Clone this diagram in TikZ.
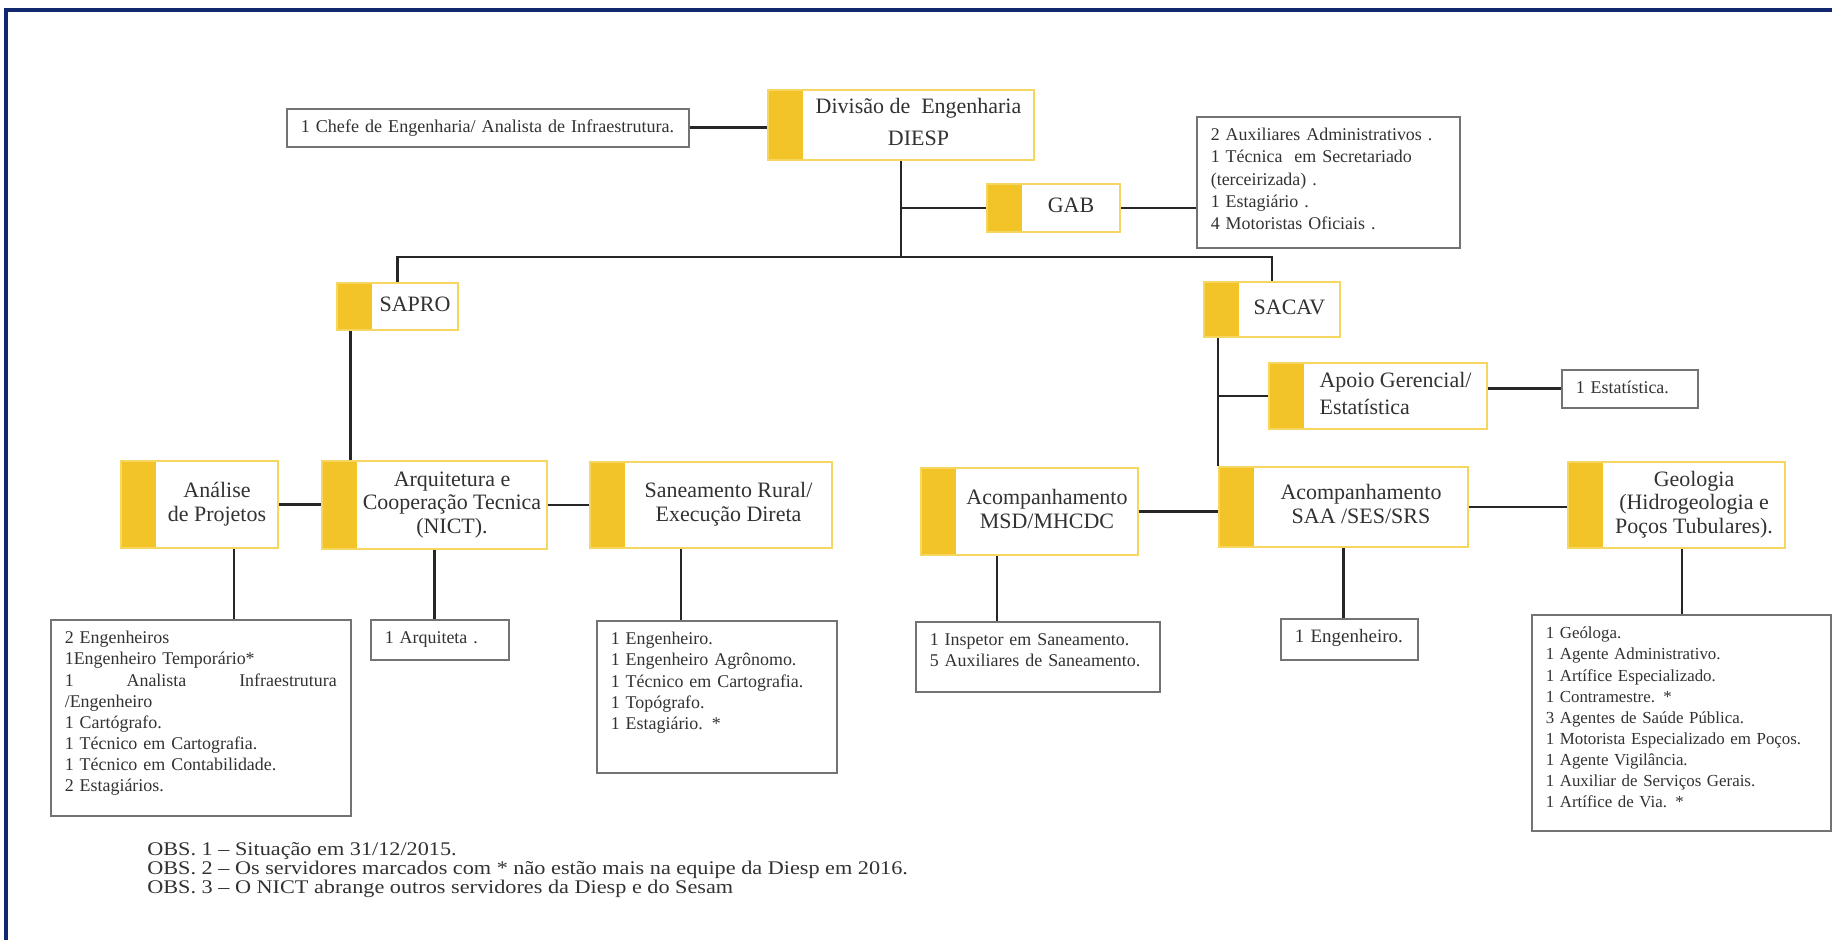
\documentclass[tikz,border=0pt]{standalone}
\usepackage{fontspec}
\setmainfont{Liberation Serif}
\newfontfamily\obsfont[FakeStretch=1.15, Ligatures=TeX]{Liberation Serif}
\definecolor{unitbar}{RGB}{242,196,40}
\definecolor{unitline}{RGB}{244,214,96}
\definecolor{staffline}{RGB}{115,115,115}
\definecolor{framenavy}{RGB}{18,40,110}
\definecolor{inktext}{RGB}{50,50,50}
% text of a unit box, centred right of the yellow bar
\newcommand{\unitlabel}[2][c]{\hspace*{0.7cm}\begin{tabular}{@{}#1@{}}#2\end{tabular}}

\begin{document}
\begin{tikzpicture}[font=\fontsize{12.5}{13.5}\selectfont, text=inktext]
    % Node styles
    \tikzstyle{unit box}=[draw=unitline, line width=1.2pt, fill=white, inner sep=1pt,
        path picture={\fill[unitbar] (path picture bounding box.south west) rectangle ([xshift=0.7cm]path picture bounding box.north west);}]
    \tikzstyle{staff box}=[draw=staffline, line width=0.9pt, fill=white, anchor=north west, align=left,
        inner xsep=0.28cm, inner ysep=0.2cm, text height=8pt, font=\fontsize{10.2}{12}\selectfont]
    \tikzstyle{link}=[line width=1.6pt, black!85]

    % Canvas and frame
    \useasboundingbox (0,0) rectangle (36.64,18.8);
    \draw[framenavy, line width=1.8pt] (0.12,0) -- (0.12,18.6) -- (36.64,18.6);

    % --- Level 0: Division ---
    \node[unit box, minimum width=5.32cm, minimum height=1.40cm] (dir) at (18.02,16.30) {\unitlabel{Divisão de\ \ Engenharia\\[5pt] DIESP}};
    \node[staff box, text width=7.48cm, text depth=0.078cm, font=\fontsize{10.3}{12}\selectfont] (chefe) at (5.72,16.64) {1 Chefe de Engenharia/ Analista de Infraestrutura.};

    % Cabinet
    \node[unit box, minimum width=2.66cm, minimum height=0.96cm] (gab) at (21.07,14.64) {\unitlabel{GAB}};
    \node[staff box, text width=4.70cm, text depth=1.938cm, font=\fontsize{10.2}{12.6}\selectfont] (gabstaff) at (23.92,16.48)
        {2 Auxiliares Administrativos .\\ 1 Técnica\ \ em Secretariado\\ (terceirizada) .\\ 1 Estagiário .\\ 4 Motoristas Oficiais .};

    % --- Level 1: Services ---
    \node[unit box, minimum width=2.42cm, minimum height=0.94cm] (sapro) at (7.95,12.67) {\unitlabel{SAPRO}};
    \node[unit box, minimum width=2.72cm, minimum height=1.10cm] (sacav) at (25.44,12.61) {\unitlabel{SACAV}};

    \node[unit box, minimum width=4.36cm, minimum height=1.32cm] (apoio) at (27.56,10.88) {\unitlabel[l]{Apoio Gerencial/\\[2pt] Estatística}};
    \node[staff box, text width=2.16cm, text depth=0.078cm] (estat) at (31.22,11.42) {1 Estatística.};

    % --- Level 2: Sectors ---
    \node[unit box, minimum width=3.14cm, minimum height=1.74cm] (anal) at (3.99,8.71) {\unitlabel{Análise\\ de Projetos}};
    \node[unit box, minimum width=4.50cm, minimum height=1.76cm] (arq) at (8.69,8.70) {\unitlabel{Arquitetura e\\ Cooperação Tecnica\\ (NICT).}};
    \node[unit box, minimum width=4.84cm, minimum height=1.72cm] (san) at (14.22,8.70) {\unitlabel{Saneamento Rural/\\ Execução Direta}};
    \node[unit box, minimum width=4.34cm, minimum height=1.74cm] (msd) at (20.59,8.57) {\unitlabel{Acompanhamento\\ MSD/MHCDC}};
    \node[unit box, minimum width=4.98cm, minimum height=1.60cm] (saa) at (26.87,8.66) {\unitlabel{Acompanhamento\\ SAA /SES/SRS}};
    \node[unit box, minimum width=4.34cm, minimum height=1.72cm] (geo) at (33.53,8.70) {\unitlabel{Geologia\\ (Hidrogeologia e\\ Poços Tubulares).}};

    % --- Level 3: Staff of each sector ---
    \node[staff box, text width=5.44cm, text depth=3.238cm] (analstaff) at (1.00,6.42)
        {2 Engenheiros\\ 1Engenheiro Temporário*\\ \makebox[\linewidth][l]{1\hfill Analista\hfill Infraestrutura}\\ /Engenheiro\\ 1 Cartógrafo.\\
         1 Técnico em Cartografia.\\ 1 Técnico em Contabilidade.\\ 2 Estagiários.};
    \node[staff box, text width=2.20cm, text depth=0.118cm] (arqstaff) at (7.40,6.42) {1 Arquiteta .};
    \node[staff box, text width=4.24cm, text depth=2.358cm] (sanstaff) at (11.92,6.40)
        {1 Engenheiro.\\ 1 Engenheiro Agrônomo.\\ 1 Técnico em Cartografia.\\ 1 Topógrafo.\\ 1 Estagiário. *};
    \node[staff box, text width=4.32cm, text depth=0.718cm] (msdstaff) at (18.30,6.38)
        {1 Inspetor em Saneamento.\\ 5 Auxiliares de Saneamento.};
    \node[staff box, text width=2.18cm, text depth=0.138cm, font=\fontsize{10.8}{12}\selectfont] (saastaff) at (25.60,6.44) {1 Engenheiro.};
    \node[staff box, text width=5.42cm, text depth=3.638cm, font=\fontsize{9.6}{12}\selectfont] (geostaff) at (30.62,6.52)
        {1 Geóloga.\\ 1 Agente Administrativo.\\ 1 Artífice Especializado.\\ 1 Contramestre. *\\ 3 Agentes de Saúde Pública.\\
         \mbox{1 Motorista Especializado em Poços.}\\ 1 Agente Vigilância.\\ 1 Auxiliar de Serviços Gerais.\\ 1 Artífice de Via. *};

    % Notes
    \node[anchor=north west, align=left, inner sep=0pt, font={\obsfont\fontsize{11}{10.9}\selectfont\lineskiplimit=-20pt\relax}] (obs) at (2.94,1.96)
        {OBS. 1 -- Situação em 31/12/2015.\\
         OBS. 2 -- Os servidores marcados com * não estão mais na equipe da Diesp em 2016.\\
         OBS. 3 -- O NICT abrange outros servidores da Diesp e do Sesam};

    % --- Connectors ---
    \draw[link] (chefe.east) -- (chefe.east -| dir.west);
    \draw[link] (sapro.north) -- ++(0,0.5) coordinate (bus) -| (sacav.north);
    \draw[link] (dir.south) -- (dir.south |- bus);
    \draw[link] (gab.west -| dir.south) -- (gab.west);
    \draw[link] (gab.east) -- (gab.east -| gabstaff.west);

    \draw[link] ([xshift=-0.94cm]sapro.south) -- ([xshift=-0.94cm]sapro.south |- arq.north);
    \draw[link] (saa.north west |- sacav.south) -- (saa.north west);
    \draw[link] (apoio.west -| saa.north west) -- (apoio.west);
    \draw[link] (estat.west -| apoio.east) -- (estat.west);

    \draw[link] (anal.east) -- (anal.east -| arq.west);
    \draw[link] (arq.east) -- (arq.east -| san.west);
    \draw[link] (msd.east) -- (msd.east -| saa.west);
    \draw[link] (saa.east) -- (saa.east -| geo.west);

    \draw[link] ([xshift=0.69cm]anal.south) -- ([xshift=0.69cm]anal.south |- analstaff.north);
    \draw[link] (arq.south) -- (arq.south |- arqstaff.north);
    \draw[link] ([xshift=-0.6cm]san.south) -- ([xshift=-0.6cm]san.south |- sanstaff.north);
    \draw[link] ([xshift=-0.65cm]msd.south) -- ([xshift=-0.65cm]msd.south |- msdstaff.north);
    \draw[link] (saa.south) -- (saa.south |- saastaff.north);
    \draw[link] ([xshift=0.11cm]geo.south) -- ([xshift=0.11cm]geo.south |- geostaff.north);

\end{tikzpicture}
\end{document}
